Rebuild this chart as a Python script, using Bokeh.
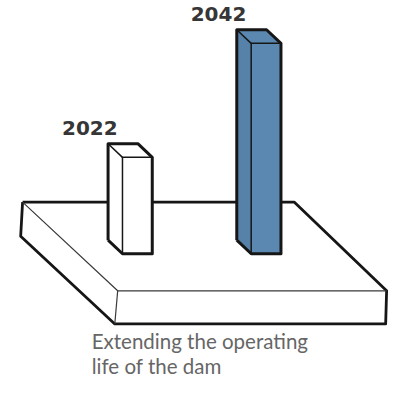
from bokeh.plotting import figure
from bokeh.models import Range1d
from bokeh.core.properties import value
from bokeh.embed import file_html
from bokeh.resources import INLINE

# ---- data ----
categories = ["2022", "2042"]
bar_values = [99, 216]            # bar heights (relative units)
face_colors = ["#ffffff", "#5b88b0"]
side_colors = ["#ffffff", "#5682aa"]
caption_lines = ["Extending the operating", "life of the dam"]

INK = "#161616"
TEXT_SHIFT = 8   # compensates the renderer's baseline placement

p = figure(width=389, height=377, x_range=Range1d(1, 406), y_range=Range1d(-127, 260),
           output_backend="svg", toolbar_location=None, min_border=0)
p.axis.visible = False
p.grid.visible = False
p.outline_line_color = None
p.background_fill_color = "white"
p.border_fill_color = "white"

# ---- platform geometry ----
back_l = (24, 53)
back_r = (307, 53)
front_l = (123, -38)
front_r = (403, -38)
thick = 34
front_l_b = (front_l[0] - 3, front_l[1] - thick)
front_r_b = (front_r[0] - 1, front_r[1] - thick)
back_l_b = (back_l[0] - 2, back_l[1] - thick - 1)

def xs(pts):
    return [q[0] for q in pts]

def ys(pts):
    return [q[1] for q in pts]

faces = [
    [back_l, back_r, front_r, front_l],
    [back_l, front_l, front_l_b, back_l_b],
    [front_l, front_r, front_r_b, front_l_b],
]
p.patches([xs(f) for f in faces], [ys(f) for f in faces], fill_color="white", line_color=None)
sil = [back_l, back_r, front_r, front_r_b, front_l_b, back_l_b, back_l]
p.line(xs(sil), ys(sil), line_color=INK, line_width=2.8, line_join="round")
thin_edges = [[back_l, front_l, front_r], [front_l, front_l_b]]
p.multi_line([xs(e) for e in thin_edges], [ys(e) for e in thin_edges], line_color="#3a3a3a", line_width=1.2)

# ---- bars ----
bar_w = 31
ox, oy = -15, 14
label_x, label_y = [], []
for i, (cat, h) in enumerate(zip(categories, bar_values)):
    x0 = 128 + 134 * i
    front = [(x0, 0), (x0 + bar_w, 0), (x0 + bar_w, h), (x0, h)]
    side = [(x0, 0), (x0, h), (x0 + ox, h + oy), (x0 + ox, oy)]
    top = [(x0, h), (x0 + bar_w, h), (x0 + bar_w + ox, h + oy), (x0 + ox, h + oy)]
    p.patch(xs(side), ys(side), fill_color=side_colors[i], line_color=None)
    p.patch(xs(top), ys(top), fill_color=face_colors[i], line_color=None)
    p.patch(xs(front), ys(front), fill_color=face_colors[i], line_color=None)
    bsil = [(x0 + ox, oy), (x0 + ox, h + oy), (x0 + bar_w + ox, h + oy), (x0 + bar_w, h),
            (x0 + bar_w, 0), (x0, 0), (x0 + ox, oy)]
    p.line(xs(bsil), ys(bsil), line_color=INK, line_width=3, line_join="round")
    inner = [[(x0, 0), (x0, h), (x0 + bar_w, h)], [(x0, h), (x0 + ox, h + oy)]]
    p.multi_line([xs(e) for e in inner], [ys(e) for e in inner], line_color=INK, line_width=1.5)
    label_x.append(x0 - 34)
    label_y.append(h + oy + 8 + TEXT_SHIFT)

p.text(x=label_x, y=label_y, text=categories, text_font=value("DejaVu Sans"), text_font_style="bold",
       text_font_size="20px", text_color="#363636", text_align="center", text_baseline="alphabetic")

cap_y = [-98 + TEXT_SHIFT - 25 * k for k in range(len(caption_lines))]
p.text(x=[96] * len(caption_lines), y=cap_y, text=caption_lines, text_font=value("Lato"),
       text_font_size="20.5px", text_color="#666666", text_align="left", text_baseline="alphabetic")

open("out.html", "w").write(file_html(p, INLINE))
